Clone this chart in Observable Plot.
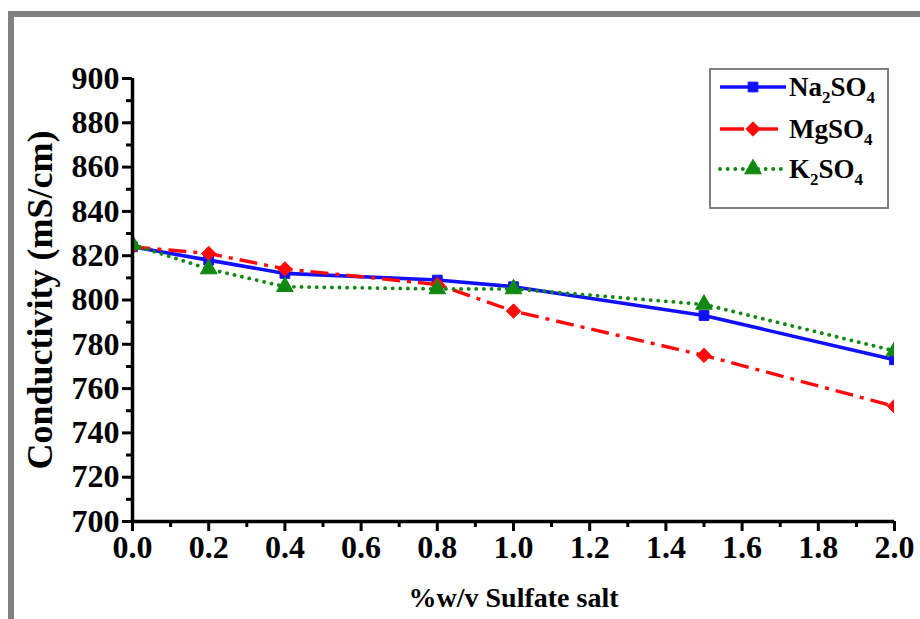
<!DOCTYPE html>
<html>
<head>
<meta charset="utf-8">
<script src="https://cdn.jsdelivr.net/npm/d3@7"></script>
<script src="https://cdn.jsdelivr.net/npm/@observablehq/plot@0.6"></script>
<style>
  body { margin: 0; background: #fff; }
  #wrap { position: relative; width: 920px; height: 619px; overflow: hidden; background: #fff;
          font-family: "Liberation Serif", "Times New Roman", serif; }
  #chart { position: absolute; left: 0; top: 0; }
  .frame-top { position: absolute; left: 8px; top: 11px; width: 912px; height: 6px; background: #808080; }
  .frame-left { position: absolute; left: 8px; top: 11px; width: 6px; height: 608px; background: #808080; }
  #legend { position: absolute; left: 709px; top: 68px; width: 180px; height: 141px;
            border: 2px solid #808080; box-sizing: border-box; background: #fff; }
  .row { position: absolute; left: 0; height: 30px; display: flex; align-items: center; }
  .row svg { display: block; }
  .row span { font-weight: bold; font-size: 27px; line-height: 1; margin-left: 0px; color: #000; white-space: nowrap; }
  .row sub { font-size: 17px; vertical-align: -7px; line-height: 0; }
</style>
</head>
<body>
<div id="wrap">
  <div class="frame-top"></div>
  <div class="frame-left"></div>
  <div id="chart"></div>
  <div id="legend"></div>
</div>
<script>
// Salt concentration (%w/v) at which conductivity was measured
const concentration = [0, 0.2, 0.4, 0.8, 1.0, 1.5, 2.0];

// Conductivity (mS/cm) for each sulfate salt
const na2so4 = [824, 818, 812, 809, 806, 793, 773];
const mgso4  = [824, 821, 814, 807, 795, 775, 752];
const k2so4  = [825, 814, 806, 805, 805, 798, 777];

// Axis ticks
const xMajor = [0, 0.2, 0.4, 0.6, 0.8, 1.0, 1.2, 1.4, 1.6, 1.8, 2.0];
const xMinor = [0.1, 0.3, 0.5, 0.7, 0.9, 1.1, 1.3, 1.5, 1.7, 1.9];
const yMajor = [700, 720, 740, 760, 780, 800, 820, 840, 860, 880, 900];
const yMinor = [710, 730, 750, 770, 790, 810, 830, 850, 870, 890];

const series = [
  {key: "Na2SO4", label: ["Na", "2", "SO", "4"], values: na2so4, color: "#1010ff", dash: null, symbol: "square", r: 5.5, width: 3.6},
  {key: "MgSO4", label: ["MgSO", "4"], values: mgso4, color: "#ff0a0a", dash: "18,7,4,7", symbol: "diamond2", r: 6.5, width: 3.4},
  {key: "K2SO4", label: ["K", "2", "SO", "4"], values: k2so4, color: "#118811", dash: "0.1,7.5", symbol: "triangle", r: 6.2, width: 3.8}
];

const rows = series.flatMap(s => concentration.map((c, i) => ({salt: s.key, x: c, y: s.values[i]})));

const lineMarks = series.map(s => Plot.line(rows.filter(d => d.salt === s.key), {
  x: "x", y: "y", stroke: s.color, strokeWidth: s.width,
  strokeDasharray: s.dash, strokeLinecap: s.key === "K2SO4" ? "round" : "butt", clip: true
}));
const dotMarks = series.map(s => Plot.dot(rows.filter(d => d.salt === s.key), {
  x: "x", y: "y", fill: s.color, stroke: s.color, strokeWidth: 1, symbol: s.symbol, r: s.r, clip: true
}));

const chart = Plot.plot({
  width: 920,
  height: 619,
  marginLeft: 132,
  marginRight: 26,
  marginTop: 78,
  marginBottom: 98,
  x: {domain: [0, 2]},
  y: {domain: [700, 900]},
  style: {fontFamily: "'Liberation Serif', 'Times New Roman', serif", fontWeight: "bold", color: "#000", background: "transparent"},
  marks: [
    ...lineMarks,
    ...dotMarks,
    Plot.axisX(xMinor, {tickSize: 6, strokeWidth: 3, text: null, label: null}),
    Plot.axisX(xMajor, {tickSize: 10, strokeWidth: 3, tickPadding: 4, fontSize: 32,
                        tickFormat: d => d.toFixed(1), label: null}),
    Plot.axisY(yMinor, {tickSize: 6, strokeWidth: 3, text: null, label: null}),
    Plot.axisY(yMajor, {tickSize: 10, strokeWidth: 3, tickPadding: 3, fontSize: 32,
                        tickFormat: d => String(d), label: null}),
    Plot.ruleX([0], {strokeWidth: 3.5}),
    Plot.ruleY([700], {strokeWidth: 3.5}),
    Plot.text(["%w/v Sulfate salt"], {frameAnchor: "bottom", textAnchor: "middle", lineAnchor: "middle",
                                      dy: 77, fontSize: 28, fontWeight: "bold", fill: "#000"}),
    Plot.text(["Conductivity (mS/cm)"], {frameAnchor: "left", textAnchor: "middle", lineAnchor: "middle",
                                         dx: -92, rotate: -90, fontSize: 36, fontWeight: "bold", fill: "#000"})
  ]
});
document.getElementById("chart").append(chart);

// Legend: line + marker swatch followed by the salt formula with subscripts
const legend = document.getElementById("legend");
const rowTops = [2, 44, 84];
series.forEach((s, i) => {
  const row = document.createElement("div");
  row.className = "row";
  row.style.top = rowTops[i] + "px";
  const svg = d3.create("svg").attr("width", 78).attr("height", 30);
  svg.append("line").attr("x1", 9).attr("x2", 75).attr("y1", 15).attr("y2", 15)
    .attr("stroke", s.color).attr("stroke-width", s.width)
    .attr("stroke-dasharray", s.key === "MgSO4" ? "24,10" : s.dash)
    .attr("stroke-linecap", s.key === "K2SO4" ? "round" : "butt");
  const sym = {square: d3.symbolSquare, diamond2: d3.symbolDiamond2, triangle: d3.symbolTriangle}[s.symbol];
  svg.append("path").attr("transform", "translate(42,15)")
    .attr("d", d3.symbol(sym, Math.PI * s.r * s.r)())
    .attr("fill", s.color).attr("stroke", s.color);
  row.append(svg.node());
  const span = document.createElement("span");
  s.label.forEach(part => {
    if (/^\d$/.test(part)) {
      const sub = document.createElement("sub");
      sub.textContent = part;
      span.append(sub);
    } else {
      span.append(document.createTextNode(part));
    }
  });
  row.append(span);
  legend.append(row);
});
</script>
</body>
</html>
